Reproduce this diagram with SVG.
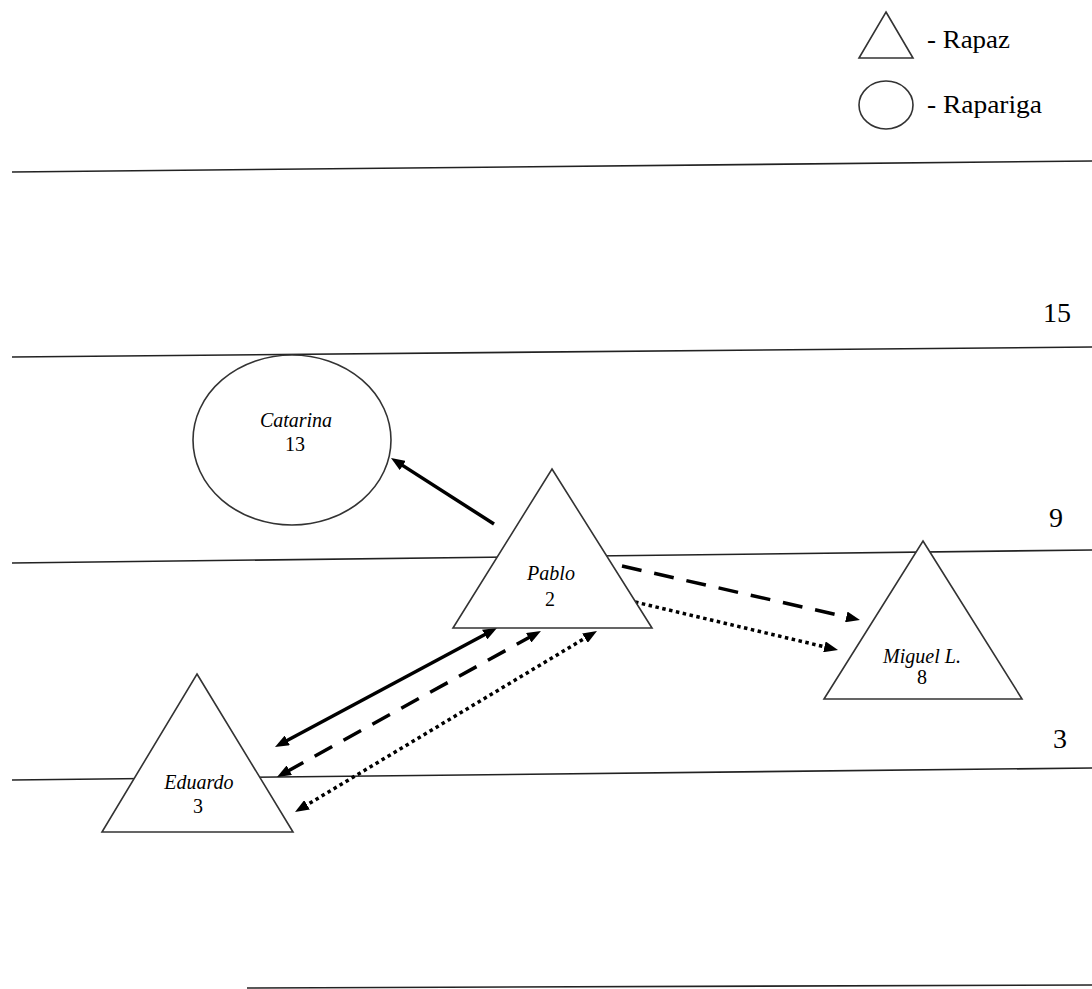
<svg xmlns="http://www.w3.org/2000/svg" width="1092" height="989" viewBox="0 0 1092 989">
<style>
.lvl{stroke:#222;stroke-width:1.6;fill:none}
.shape{fill:#fff;stroke:#333;stroke-width:1.6}
.con{fill:none;stroke:#000;stroke-width:3.5}
.dash{stroke-dasharray:20 13}
.dot{stroke-dasharray:3.5 3.5}
.name{font-family:"Liberation Serif","Times New Roman",serif;font-style:italic;font-size:20px;fill:#000;text-anchor:middle}
.num{font-family:"Liberation Serif","Times New Roman",serif;font-size:20px;fill:#000;text-anchor:middle}
.leg{font-family:"Liberation Serif","Times New Roman",serif;font-size:25px;fill:#000}
.lab{font-family:"Liberation Serif","Times New Roman",serif;font-size:28px;fill:#000;text-anchor:middle}
</style>
<defs>
<marker id="ah" viewBox="0 0 14 11" markerWidth="14" markerHeight="11" markerUnits="userSpaceOnUse" refX="4" refY="5.5" orient="auto-start-reverse">
<path d="M0,0 L14,5.5 L0,11 z" fill="#000"/>
</marker>
</defs>
<rect width="1092" height="989" fill="#fff"/>
<g id="legend">
<polygon class="shape" points="886,12 913,58 859,58"/>
<text class="leg" x="927" y="48" textLength="83" lengthAdjust="spacingAndGlyphs">- Rapaz</text>
<ellipse class="shape" cx="886" cy="105" rx="27" ry="24"/>
<text class="leg" x="927" y="113" textLength="115" lengthAdjust="spacingAndGlyphs">- Rapariga</text>
</g>
<g id="levels">
<line class="lvl" x1="12" y1="172" x2="1092" y2="161"/>
<line class="lvl" x1="12" y1="357" x2="1092" y2="347"/>
<line class="lvl" x1="12" y1="563" x2="1092" y2="550"/>
<line class="lvl" x1="12" y1="780" x2="1092" y2="768"/>
<line class="lvl" x1="247" y1="988" x2="1092" y2="985"/>
<text class="lab" x="1057" y="322">15</text>
<text class="lab" x="1056" y="527">9</text>
<text class="lab" x="1060" y="748">3</text>
</g>
<g id="connectors">
<line class="con" x1="494" y1="524" x2="399.4" y2="463.4" marker-end="url(#ah)"/>
<line class="con" x1="283.8" y1="742.3" x2="488.2" y2="632.7" marker-start="url(#ah)" marker-end="url(#ah)"/>
<line class="con dash" x1="285.8" y1="772.2" x2="532.2" y2="635.8" marker-start="url(#ah)" marker-end="url(#ah)"/>
<line class="con dot" x1="303.6" y1="806.9" x2="588.4" y2="636.1" marker-start="url(#ah)" marker-end="url(#ah)"/>
<line class="con dash" x1="622" y1="566" x2="850.2" y2="617.8" marker-end="url(#ah)"/>
<line class="con dot" x1="635" y1="602" x2="828.3" y2="647.7" marker-end="url(#ah)"/>
</g>
<g id="catarina">
<ellipse class="shape" cx="292" cy="440" rx="99" ry="85"/>
<text class="name" x="296" y="427">Catarina</text>
<text class="num" x="295" y="451">13</text>
</g>
<g id="pablo">
<polygon class="shape" points="552,469 652,628 453,628"/>
<text class="name" x="551" y="580">Pablo</text>
<text class="num" x="550" y="606">2</text>
</g>
<g id="eduardo">
<polygon class="shape" points="197,674 293,832 102,832"/>
<text class="name" x="199" y="789">Eduardo</text>
<text class="num" x="198" y="813">3</text>
</g>
<g id="miguel">
<polygon class="shape" points="923,541 1022,699 824,699"/>
<text class="name" x="922" y="663">Miguel L.</text>
<text class="num" x="922" y="684">8</text>
</g>
</svg>
